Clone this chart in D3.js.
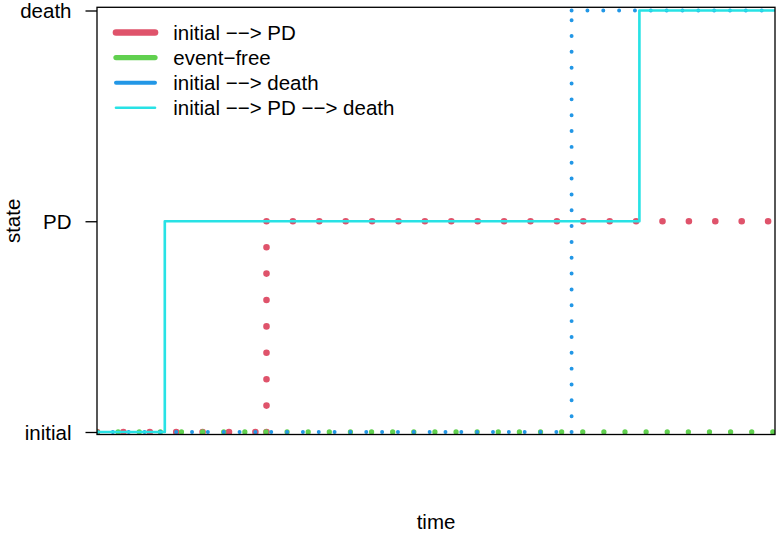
<!DOCTYPE html>
<html>
<head>
<meta charset="utf-8">
<script src="https://cdn.jsdelivr.net/npm/d3@7"></script>
<style>
  body { margin: 0; background: #fff; }
  svg { display: block; font-family: "Liberation Sans", Arial, Helvetica, sans-serif; }
</style>
</head>
<body>
<svg id="chart"></svg>
<script>
var w = 777;
var h = 533;

// state levels on the y axis
var states = ["initial", "PD", "death"];

// one trajectory per series: time of each step and the state held from it
var seriesNames = ["initial \u2212\u2212> PD", "event\u2212free", "initial \u2212\u2212> death", "initial \u2212\u2212> PD \u2212\u2212> death"];
var seriesColors = ["#DF536B", "#61D04F", "#2297E6", "#28E2E5"];
var seriesLwd = [5, 4, 3, 2];
var seriesDotted = [true, true, true, false];
var stepTimes = [
    [0, 2.5, 10],
    [0, 10],
    [0, 7, 10],
    [0, 1, 8, 10]
];
var stepStates = [
    ["initial", "PD", "PD"],
    ["initial", "initial"],
    ["initial", "death", "death"],
    ["initial", "PD", "death", "death"]
];

var timeRange = [0, 10];

var box = { left: 97, right: 775, top: 7.3, bottom: 434.5 };
var lwdPx = 1.32;
var fontSize = 20.5;

var x = d3.scaleLinear().domain(timeRange).range([box.left, box.right]);
var yIdx = d3.scaleLinear().domain([0, 2]).range([432, 10.5]);
var y = function(s) { return yIdx(states.indexOf(s)); };

var svg = d3.select("#chart").attr("width", w).attr("height", h);
svg.append("rect").attr("width", w).attr("height", h).attr("fill", "#fff");

svg.append("clipPath").attr("id", "plotclip")
    .append("rect")
    .attr("x", box.left).attr("y", box.top)
    .attr("width", box.right - box.left).attr("height", box.bottom - box.top);

// break each step trajectory into horizontal and vertical segments
function toSegments(times, sts) {
    var segs = [];
    for (var i = 0; i < times.length - 1; i++) {
        segs.push([[times[i], sts[i]], [times[i + 1], sts[i]]]);
        if (sts[i + 1] !== sts[i]) {
            segs.push([[times[i + 1], sts[i]], [times[i + 1], sts[i + 1]]]);
        }
    }
    return segs;
}

var line = d3.line()
    .x(function(d) { return x(d[0]); })
    .y(function(d) { return y(d[1]); });

var plot = svg.append("g").attr("clip-path", "url(#plotclip)");

seriesNames.forEach(function(name, k) {
    var lw = seriesLwd[k] * lwdPx;
    var segs = toSegments(stepTimes[k], stepStates[k]);
    var g = plot.append("g");
    if (seriesDotted[k]) {
        // each segment starts its own dot pattern
        g.selectAll("path").data(segs).enter().append("path")
            .attr("d", line)
            .attr("fill", "none")
            .attr("stroke", seriesColors[k])
            .attr("stroke-width", lw)
            .attr("stroke-linecap", "round")
            .attr("stroke-dasharray", "0 " + (4 * lw));
    } else {
        var pts = [];
        segs.forEach(function(s, i) {
            if (i === 0) pts.push(s[0]);
            pts.push(s[1]);
        });
        g.append("path").datum(pts)
            .attr("d", line)
            .attr("fill", "none")
            .attr("stroke", seriesColors[k])
            .attr("stroke-width", lw)
            .attr("stroke-linejoin", "round");
    }
});

// box
svg.append("rect")
    .attr("x", box.left).attr("y", box.top)
    .attr("width", box.right - box.left).attr("height", box.bottom - box.top)
    .attr("fill", "none").attr("stroke", "#000").attr("stroke-width", lwdPx);

// y axis
var yAxis = d3.axisLeft(yIdx)
    .tickValues([0, 1, 2])
    .tickFormat(function(i) { return states[i]; })
    .tickSize(11.5)
    .tickPadding(14);

var ax = svg.append("g")
    .attr("transform", "translate(" + box.left + ",0)")
    .call(yAxis);
ax.select(".domain").remove();
ax.selectAll(".tick line").attr("stroke", "#000").attr("stroke-width", lwdPx);
ax.selectAll(".tick text")
    .attr("fill", "#000")
    .style("font-size", fontSize + "px")
    .style("font-family", "'Liberation Sans', Arial, Helvetica, sans-serif")
    .attr("dy", "0.36em");

// axis titles
svg.append("text")
    .attr("x", (box.left + box.right) / 2)
    .attr("y", 529)
    .attr("text-anchor", "middle")
    .style("font-size", fontSize + "px")
    .text("time");

svg.append("text")
    .attr("transform", "translate(19.5," + ((box.top + box.bottom) / 2) + ") rotate(-90)")
    .attr("text-anchor", "middle")
    .style("font-size", fontSize + "px")
    .text("state");

// legend
var legend = svg.append("g").attr("transform", "translate(116,32.5)");
var rows = legend.selectAll("g").data(seriesNames).enter().append("g")
    .attr("transform", function(d, i) { return "translate(0," + (i * 25.1) + ")"; });

rows.append("line")
    .attr("x1", 0).attr("x2", 39)
    .attr("stroke", function(d, i) { return seriesColors[i]; })
    .attr("stroke-width", function(d, i) { return seriesLwd[i] * lwdPx; })
    .attr("stroke-linecap", "round");

rows.append("text")
    .attr("x", 57.3)
    .attr("dy", "0.36em")
    .style("font-size", fontSize + "px")
    .text(function(d) { return d; });
</script>
</body>
</html>
